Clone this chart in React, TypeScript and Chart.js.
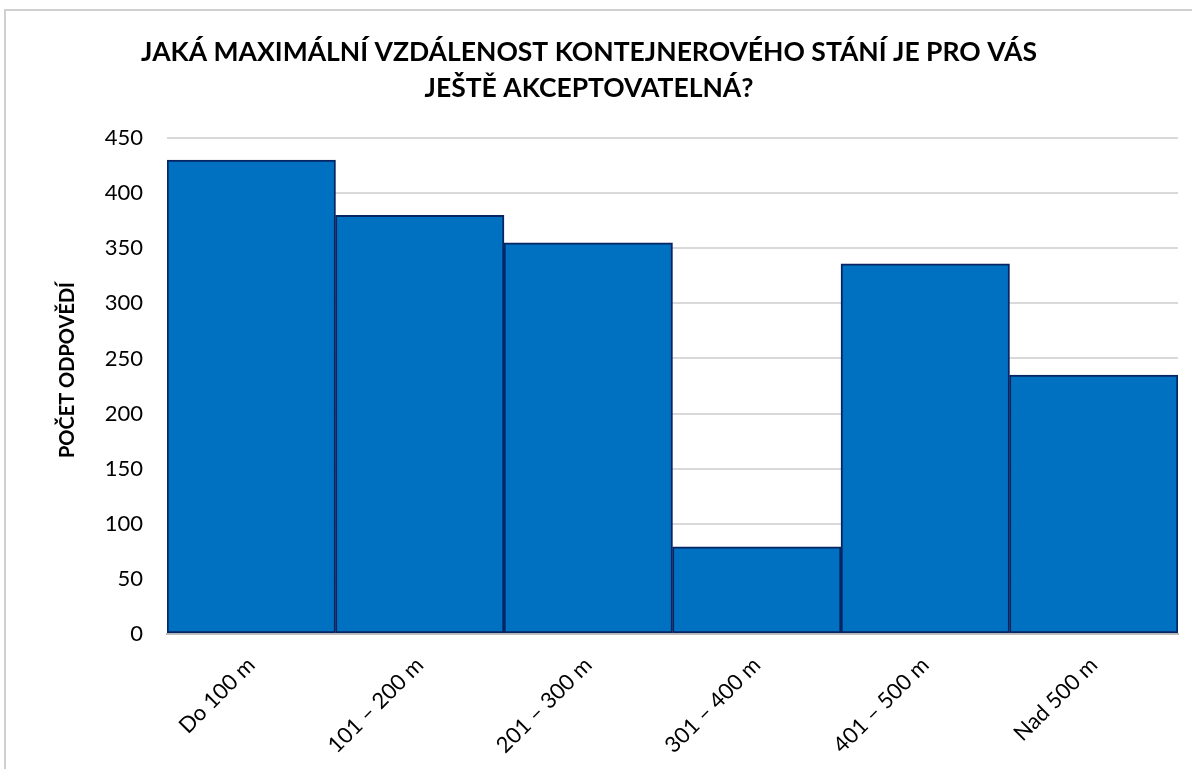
import React, { useEffect, useRef } from "react";
import { Chart, registerables } from "chart.js";

Chart.register(...registerables);

const categories = ["Do 100 m", "101 – 200 m", "201 – 300 m", "301 – 400 m", "401 – 500 m", "Nad 500 m"];
const counts = [430, 380, 355, 79, 336, 235];
const yTicks = [0, 50, 100, 150, 200, 250, 300, 350, 400, 450];
const titleLines = ["JAKÁ MAXIMÁLNÍ VZDÁLENOST KONTEJNEROVÉHO STÁNÍ JE PRO VÁS", "JEŠTĚ AKCEPTOVATELNÁ?"];
const yTitle = "POČET ODPOVĚDÍ";

const FONT = "Lato, 'Noto Sans', sans-serif";

const yTitlePlugin = {
  id: "yTitleCustom",
  afterDraw(chart: any) {
    const ctx = chart.ctx;
    ctx.save();
    ctx.translate(68, 370);
    ctx.rotate(-Math.PI / 2);
    ctx.font = `bold 20px ${FONT}`;
    ctx.fillStyle = "#000";
    ctx.textAlign = "center";
    ctx.textBaseline = "middle";
    ctx.fillText(yTitle, 0, 0);
    ctx.restore();
  },
};

export default function App() {
  const ref = useRef<HTMLCanvasElement | null>(null);
  useEffect(() => {
    if (!ref.current) return;
    const chart = new Chart(ref.current, {
      type: "bar",
      data: {
        labels: categories,
        datasets: [
          {
            data: counts,
            backgroundColor: "#0070C0",
            borderColor: "#072563",
            borderWidth: 2,
            borderSkipped: false,
            categoryPercentage: 1,
            barPercentage: 1,
          },
        ],
      },
      plugins: [yTitlePlugin],
      options: {
        responsive: false,
        animation: false,
        layout: { padding: { left: 0, right: 14, top: 0, bottom: 0 } },
        plugins: {
          legend: { display: false },
          tooltip: { enabled: false },
          title: {
            display: true,
            text: titleLines,
            color: "#000",
            font: { family: FONT, size: 26.5, weight: "bold", lineHeight: 1.36 },
            padding: { top: 34, bottom: 32 },
          },
        },
        scales: {
          x: {
            grid: { display: false, drawTicks: false },
            border: { color: "#BFBFBF", width: 2 },
            ticks: {
              color: "#000",
              font: { family: FONT, size: 22 },
              minRotation: 45,
              maxRotation: 45,
              padding: 18,
            },
            afterFit: (s: any) => {
              s.height = 135;
            },
          },
          y: {
            min: 0,
            max: 450,
            afterBuildTicks: (s: any) => {
              s.ticks = yTicks.map((v) => ({ value: v }));
            },
            grid: { color: "#D9D9D9", lineWidth: 2, drawTicks: false },
            border: { display: false },
            ticks: {
              color: "#000",
              font: { family: FONT, size: 22 },
              padding: 24,
            },
            afterFit: (s: any) => {
              s.width = 167;
            },
          },
        },
      },
    });
    return () => chart.destroy();
  }, []);
  return (
    <div style={{ position: "fixed", left: 0, top: 0, width: 1192, height: 769, overflow: "hidden", background: "#fff" }}>
      <div
        style={{
          position: "absolute",
          left: 4,
          top: 9,
          width: 1400,
          height: 1000,
          border: "2px solid #D0D0D0",
          boxSizing: "border-box",
        }}
      />
      <canvas ref={ref} width={1192} height={769} style={{ position: "absolute", left: 0, top: 0 }} />
    </div>
  );
}
